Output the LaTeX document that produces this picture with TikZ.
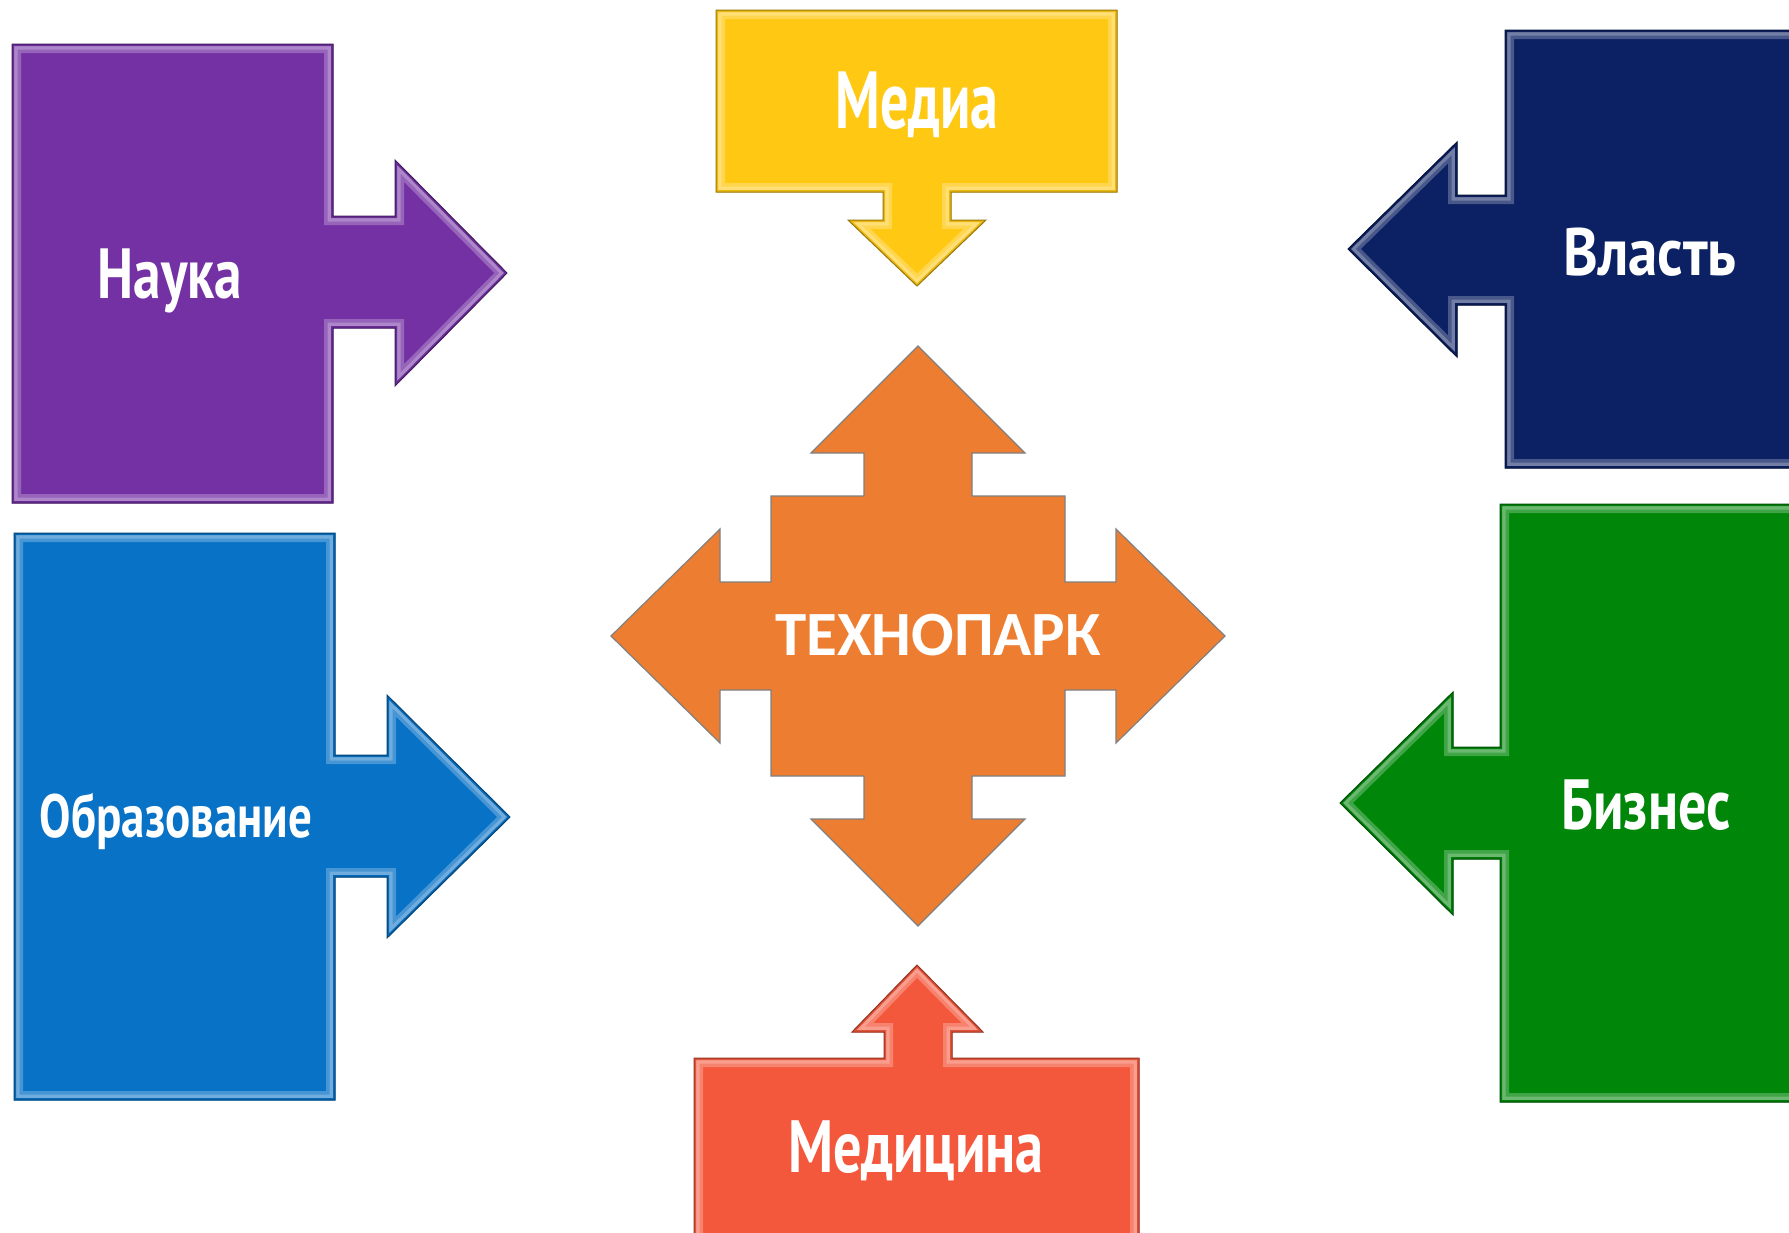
\documentclass[tikz,border=0pt]{standalone}
\usepackage{fontspec}
\usepackage{graphicx}
\newfontfamily\condfont{PT Sans}
\newfontfamily\carlitofont{Carlito}
\definecolor{cPurple}{RGB}{115,49,163}
\definecolor{cBlue}{RGB}{8,114,198}
\definecolor{cYellow}{RGB}{255,200,18}
\definecolor{cOrange}{RGB}{237,125,49}
\definecolor{cRed}{RGB}{244,88,60}
\definecolor{cNavy}{RGB}{12,33,99}
\definecolor{cGreen}{RGB}{0,135,10}
\newcommand\bevelshape[2]{%
  \fill[#1] #2;
  \begin{scope}
    \clip #2;
    \draw[#1!75!white, line width=18pt] #2;
    \draw[#1!58!white, line width=11pt] #2;
    \draw[#1!92!black, line width=4pt] #2;
  \end{scope}
  \draw[#1!60!black, line width=1pt] #2;
}
\newcommand\lbltext[3]{\scalebox{#2}[1]{\condfont\bfseries\fontsize{#1}{#1}\selectfont #3}}
\tikzset{
  lbl/.style={text=white, inner sep=0pt, anchor=base},
}
\begin{document}
\begin{tikzpicture}[x=1pt,y=-1pt]
\useasboundingbox[fill=white] (0,0) rectangle (1789,1232);
% Nauka
\bevelshape{cPurple}{(12,44) -- (333,44) -- (333,216) -- (395,216) -- (395,160) -- (507,273) -- (395,386) -- (395,328) -- (333,328) -- (333,503) -- (12,503) -- cycle}
% Obrazovanie
\bevelshape{cBlue}{(14,533) -- (335,533) -- (335,755) -- (387,755) -- (387,695) -- (510,817) -- (387,938) -- (387,877) -- (335,877) -- (335,1100) -- (14,1100) -- cycle}
% Media
\bevelshape{cYellow}{(716,10) -- (1117,10) -- (1117,192) -- (951,192) -- (951,220) -- (986,220) -- (917,286) -- (848,220) -- (883,220) -- (883,192) -- (716,192) -- cycle}
% Medicina
\bevelshape{cRed}{(694,1058) -- (884,1058) -- (884,1032) -- (852,1032) -- (917,965) -- (983,1032) -- (952,1032) -- (952,1058) -- (1139,1058) -- (1139,1262) -- (694,1262) -- cycle}
% Vlast
\bevelshape{cNavy}{(1505,30) -- (1800,30) -- (1800,468) -- (1505,468) -- (1505,305) -- (1457,305) -- (1457,357) -- (1348,249) -- (1457,142) -- (1457,195) -- (1505,195) -- cycle}
% Biznes
\bevelshape{cGreen}{(1500,504) -- (1800,504) -- (1800,1102) -- (1500,1102) -- (1500,859) -- (1453,859) -- (1453,915) -- (1340,803) -- (1453,692) -- (1453,747) -- (1500,747) -- cycle}
% Technopark cross
\draw[fill=cOrange, draw=black!50, line width=1.2pt]
  (918,346) -- (1025,453) -- (972,453) -- (972,496) -- (1065,496) -- (1065,582) -- (1116,582) -- (1116,529) -- (1225,636) -- (1116,743) -- (1116,690) -- (1065,690) -- (1065,776) -- (972,776) -- (972,819) -- (1025,819) -- (918,926) -- (811,819) -- (864,819) -- (864,776) -- (771,776) -- (771,690) -- (720,690) -- (720,743) -- (611,636) -- (720,529) -- (720,582) -- (771,582) -- (771,496) -- (864,496) -- (864,453) -- (811,453) -- cycle;
% labels
\node[lbl] (nauka) at (170,298) {\lbltext{71}{0.78}{Наука}};
\node[lbl] (obraz) at (176,837) {\lbltext{61}{0.77}{Образование}};
\node[lbl] (media) at (917,128) {\lbltext{81}{0.69}{Медиа}};
\node[lbl] (medic) at (916,1172) {\lbltext{74}{0.76}{Медицина}};
\node[lbl] (vlast) at (1650,275) {\lbltext{67}{0.88}{Власть}};
\node[lbl] (biznes) at (1646,829) {\lbltext{71}{0.79}{Бизнес}};
\node[lbl, font=\carlitofont\bfseries\fontsize{63}{63}\selectfont] (tech) at (938,655) {ТЕХНОПАРК};
\end{tikzpicture}
\end{document}
